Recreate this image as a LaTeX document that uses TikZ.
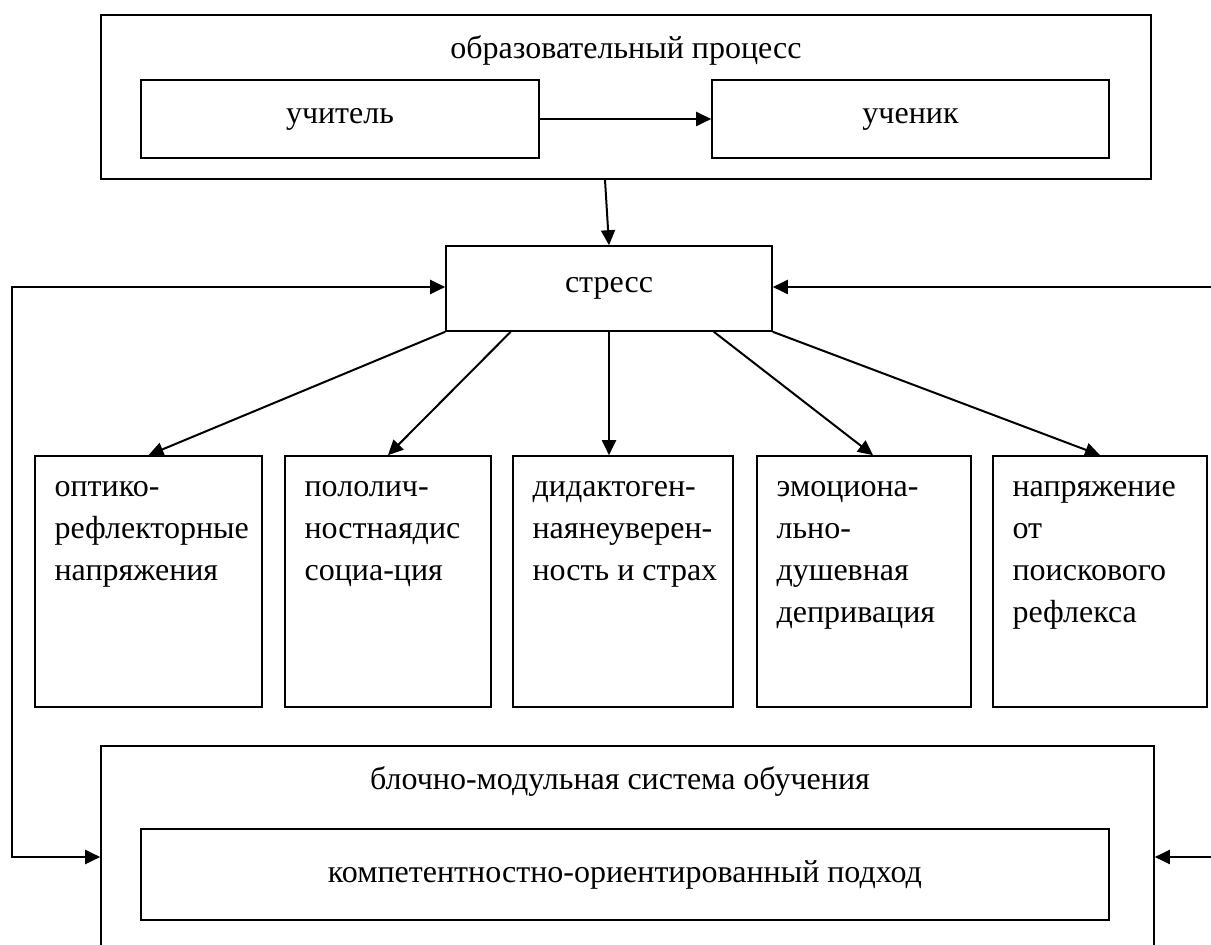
\documentclass[tikz,border=0pt]{standalone}
\usepackage{fontspec}
\setmainfont{Liberation Serif}
\usetikzlibrary{arrows.meta,calc,positioning}
\tikzset{
  frame/.style={draw, line width=0.8pt, inner sep=0pt},
  link/.style={line width=1pt, -{Triangle[length=7.5pt,width=7pt]}},
  dlink/.style={line width=1pt, {Triangle[length=7.5pt,width=7pt]}-{Triangle[length=7.5pt,width=7pt]}},
  effbox/.style={frame, minimum width=#1, minimum height=125.5pt},
  efftext/.style={anchor=north west, inner sep=0pt, align=left}
}
\begin{document}
\begin{tikzpicture}[x=0.5pt, y=-0.5pt, font=\fontsize{16pt}{21pt}\selectfont]
\useasboundingbox (0,0) rectangle (1211,945);
\clip (0,0) rectangle (1211,945);

% образовательный процесс
\node[frame, minimum width=525pt, minimum height=82pt] (proc) at (626,97) {};
\node (proctitle) at (626,50) {образовательный процесс};
\node[frame, minimum width=199pt, minimum height=39pt] (teacher) at (340,119) {учитель};
\node[frame, minimum width=198.5pt, minimum height=39pt] (pupil) at (910.5,119) {ученик};
\draw[link] (teacher) -- (pupil);

% стресс
\node[frame, minimum width=163pt, minimum height=42.5pt] (stress) at (609,288.5) {стресс};
\draw[link] ([xshift=-10.5pt]proc.south) -- (stress.north);

% виды напряжения
\node[effbox=113.5pt] (e1) at (148.5,581.5) {};
\node[effbox=103pt] (e2) at (388,581.5) {};
\node[effbox=110pt] (e3) at (623,581.5) {};
\node[effbox=107pt] (e4) at (864,581.5) {};
\node[effbox=107pt] (e5) at (1100,581.5) {};
\node[efftext] (t1) at ([shift={(20,26)}]e1.north west) {оптико-\\рефлекторные\\напряжения};
\node[efftext] (t2) at ([shift={(20,26)}]e2.north west) {пололич-\\ностнаядис\\социа-ция};
\node[efftext] (t3) at ([shift={(20,26)}]e3.north west) {дидактоген-\\наянеуверен-\\ность и страх};
\node[efftext] (t4) at ([shift={(20,26)}]e4.north west) {эмоциона-\\льно-\\душевная\\депривация};
\node[efftext] (t5) at ([shift={(20,26)}]e5.north west) {напряжение\\от\\поискового\\рефлекса};

\draw[link] (stress.south west) -- (e1.north);
\draw[link] ($(stress.south west)!0.2!(stress.south east)$) -- (e2.north);
\draw[link] (stress.south) -- (stress.south |- e3.north);
\draw[link] ($(stress.south west)!0.82!(stress.south east)$) -- ([xshift=4.5pt]e4.north);
\draw[link] (stress.south east) -- (e5.north);

% блочно-модульная система
\node[frame, minimum width=526.5pt, minimum height=107pt] (sys) at (627.5,853) {};
\node (systitle) at (620,782) {блочно-модульная система обучения};
\node[frame, minimum width=484pt, minimum height=45.5pt] (approach) at (625,874.5) {компетентностно-ориентированный подход};

% обратные связи
\coordinate (lt) at (12,287);
\coordinate (lb) at (12,857);
\coordinate (rt) at (1211,287);
\coordinate (rb) at (1211,857);
\draw[dlink] (lt -| stress.west) -- (lt) -- (lb) -- (lb -| sys.west);
\draw[link] (rt) -- (rt -| stress.east);
\draw[link] (rb) -- (rb -| sys.east);
\end{tikzpicture}
\end{document}
